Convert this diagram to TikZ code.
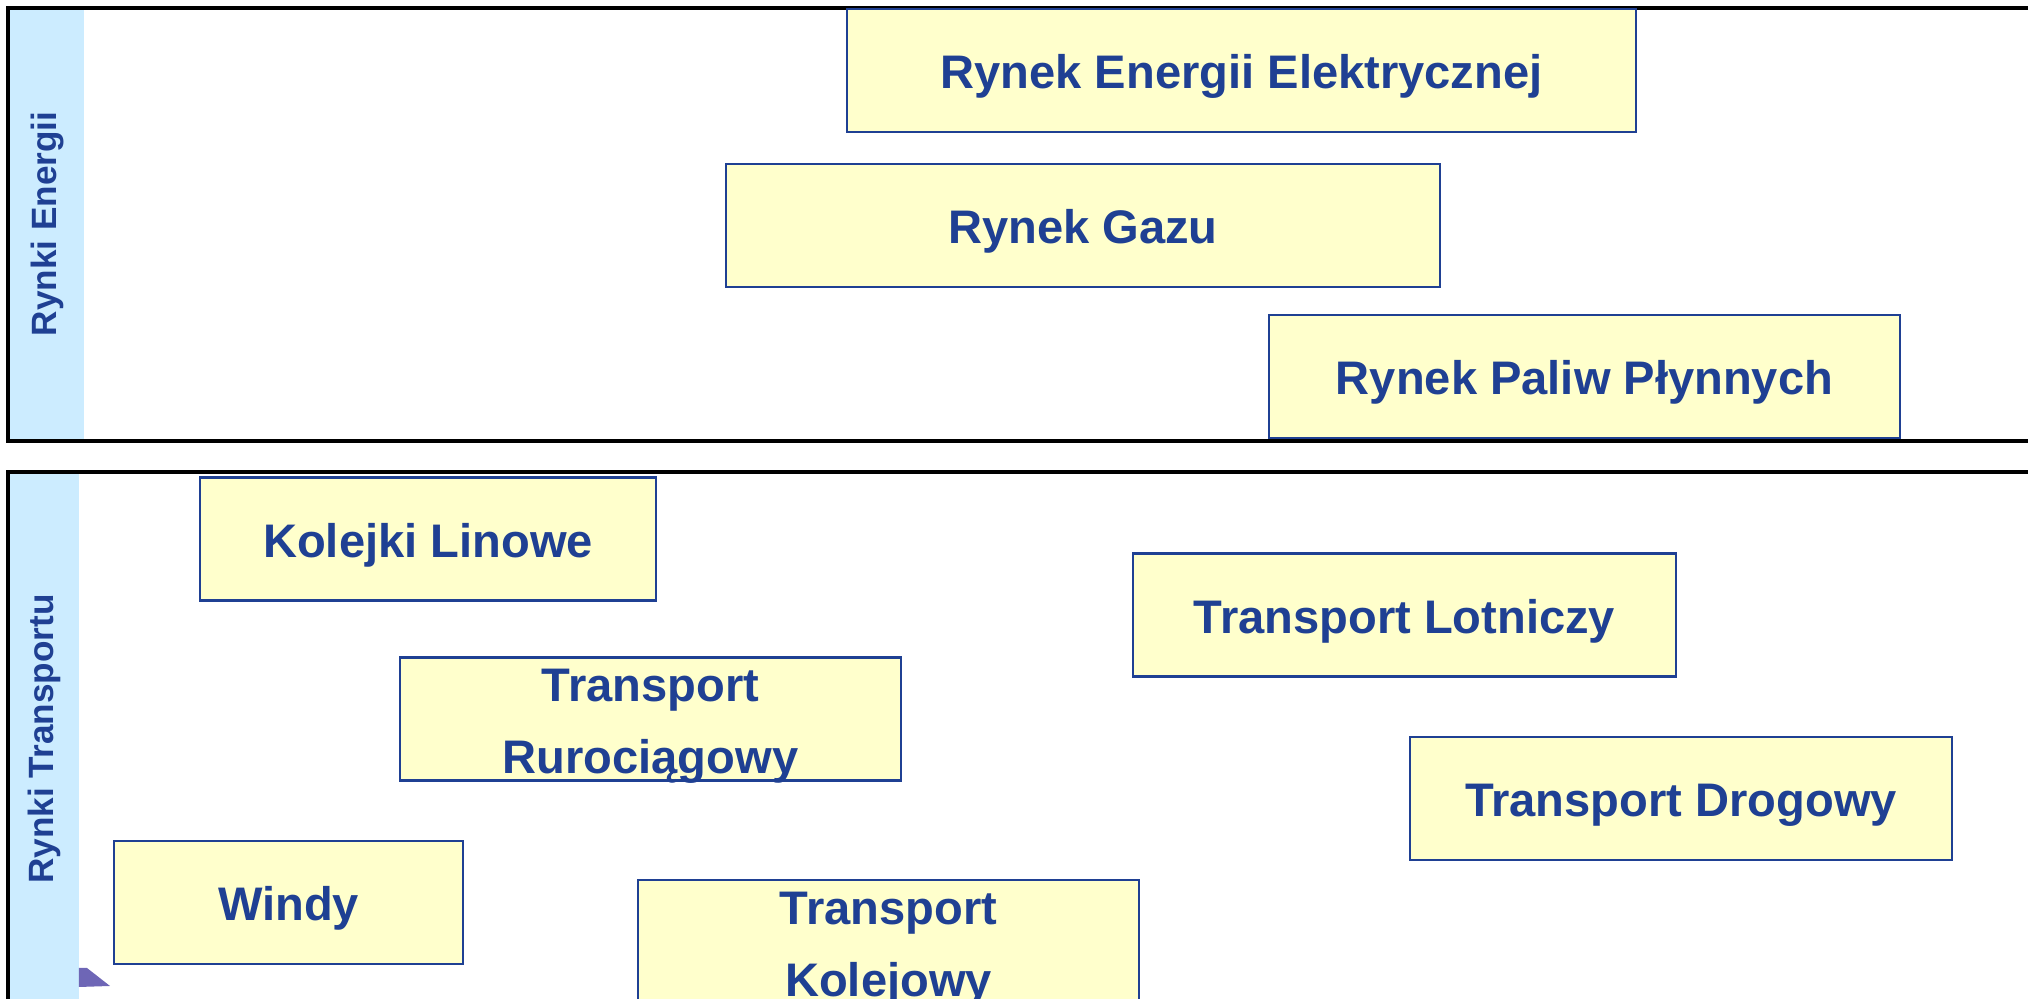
\documentclass[tikz,border=0pt]{standalone}
\usepackage{fontspec}
\setmainfont{Liberation Sans}
\usepackage{xcolor}
\usetikzlibrary{positioning}

\definecolor{navy}{RGB}{31,64,147}
\definecolor{boxfill}{RGB}{255,255,204}
\definecolor{bandblue}{RGB}{204,236,255}
\definecolor{tipviolet}{RGB}{110,102,182}

\begin{document}
\begin{tikzpicture}[
    font=\bfseries,
    market/.style={
        rectangle,
        draw=navy,
        fill=boxfill,
        line width=0.6pt,
        text=navy,
        inner sep=0pt,
        minimum height=1.23cm,
        align=center,
        text height=13.2pt,
        text depth=2.8pt,
        font=\bfseries\fontsize{13.4}{20.5}\selectfont
    },
    twoline/.style={market, text height=33pt, text depth=1.8pt},
    side/.style={rotate=90, text=navy, font=\bfseries\fontsize{10}{12}\selectfont},
    frame/.style={draw=black, line width=0.9pt}
]

\useasboundingbox (0,0) rectangle (20.28,9.99);
\clip (0,0) rectangle (20.28,9.99);

% Bands
\fill[bandblue] (0.08,5.58) rectangle (0.84,9.91);
\fill[bandblue] (0.08,-0.2) rectangle (0.79,5.27);

% Frames
\draw[frame] (20.6,9.91) -- (0.08,9.91) -- (0.08,5.58) -- (20.6,5.58);
\draw[frame] (20.6,5.27) -- (0.08,5.27) -- (0.08,-0.2);

% Side labels
\node[side] (energy) at (0.47,7.75) {Rynki Energii};
\node[side] (transport) at (0.44,2.60) {Rynki Transportu};

% Energy markets
\node[market, minimum width=7.89cm] (ele) at (12.415,9.285) {Rynek Energii Elektrycznej};
\node[market, minimum width=7.14cm] (gaz) at (10.83,7.735) {Rynek Gazu};
\node[market, minimum width=6.31cm] (pal) at (15.845,6.225) {Rynek Paliw Płynnych};

% Transport markets
\node[market, minimum width=4.56cm] (kol) at (4.28,4.60) {Kolejki Linowe};
\node[market, minimum width=5.43cm] (lot) at (14.045,3.84) {Transport Lotniczy};
\node[twoline, minimum width=5.01cm] (rur) at (6.505,2.80) {Transport\\Rurociągowy};
\node[market, minimum width=5.42cm] (dro) at (16.81,2.005) {Transport Drogowy};
\node[market, minimum width=3.49cm] (win) at (2.885,0.965) {Windy};
\node[twoline, minimum width=5.01cm] (kej) at (8.885,0.575) {Transport\\Kolejowy};

% Arrow tip
\fill[tipviolet] (0.79,0.31) -- (0.87,0.31) -- (1.10,0.13) -- (0.79,0.12) -- cycle;

\end{tikzpicture}
\end{document}
